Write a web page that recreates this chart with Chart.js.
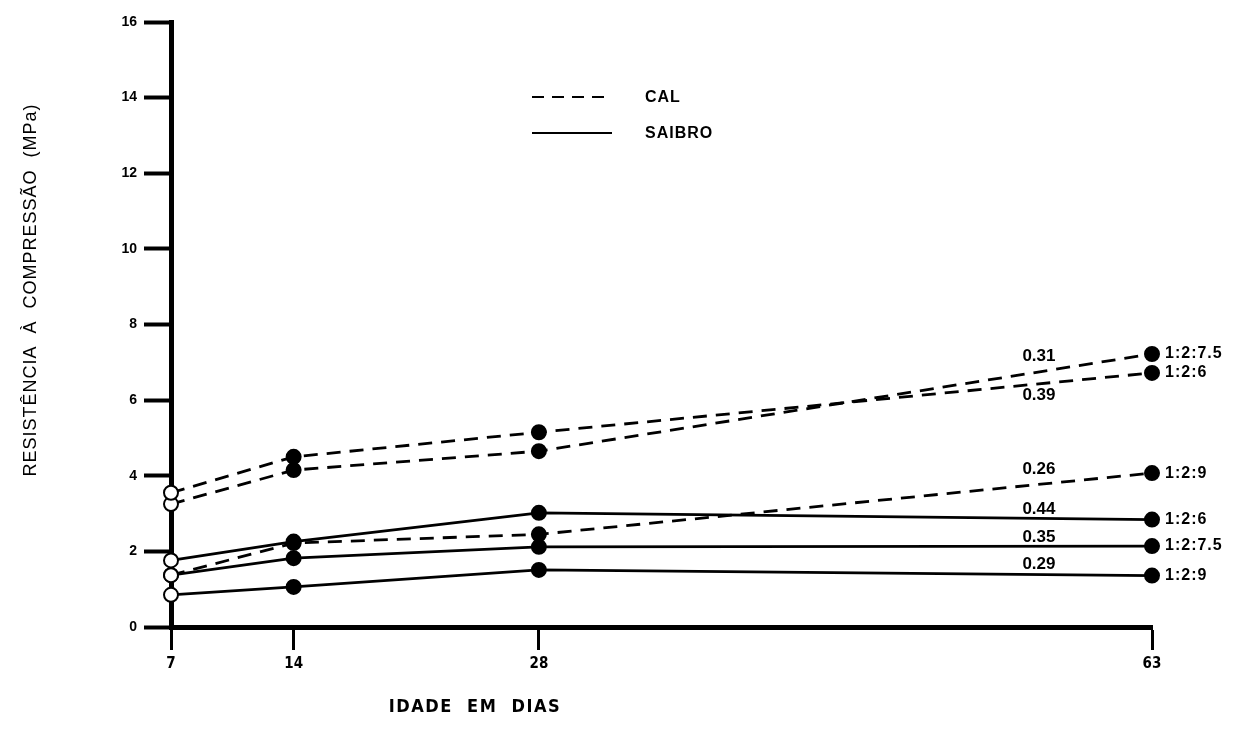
<!DOCTYPE html>
<html>
<head>
<meta charset="utf-8">
<script src="https://cdn.jsdelivr.net/npm/chart.js@4.4.1/dist/chart.umd.min.js"></script>
<style>
  html, body { margin: 0; padding: 0; background: #fff; }
  #wrap { width: 1254px; height: 743px; position: relative; }
</style>
</head>
<body>
<div id="wrap"><canvas id="c" width="1254" height="743"></canvas></div>
<script>
// ---- data ----
const DAYS = [7, 14, 28, 63];
const Y_TICKS = [0, 2, 4, 6, 8, 10, 12, 14, 16];

const CAL_126  = [3.55, 4.50, 5.15, 6.72];
const CAL_1275 = [3.25, 4.15, 4.65, 7.22];
const CAL_129  = [1.37, 2.22, 2.45, 4.07];
const SAI_126  = [1.76, 2.26, 3.02, 2.84];
const SAI_1275 = [1.37, 1.82, 2.12, 2.14];
const SAI_129  = [0.85, 1.06, 1.51, 1.36];

const END_LABELS = ['1:2:6', '1:2:7.5', '1:2:9', '1:2:6', '1:2:7.5', '1:2:9'];
const RATIO_LABELS = ['0.39', '0.31', '0.26', '0.44', '0.35', '0.29'];
// where each ratio label sits (day, MPa)
const RATIO_X = [56.8, 56.8, 56.8, 56.8, 56.8, 56.8];
const RATIO_Y = [6.14, 7.17, 4.18, 3.12, 2.38, 1.67];

const LEGEND = ['CAL', 'SAIBRO'];
const X_TITLE = 'IDADE  EM  DIAS';
const Y_TITLE = 'RESISTÊNCIA  À  COMPRESSÃO  (MPa)';

const SERIES = [
  { vals: CAL_126,  dashed: true },
  { vals: CAL_1275, dashed: true },
  { vals: CAL_129,  dashed: true },
  { vals: SAI_126,  dashed: false },
  { vals: SAI_1275, dashed: false },
  { vals: SAI_129,  dashed: false }
];

const DASH = [14, 9];

const datasets = SERIES.map((s, i) => ({
  label: END_LABELS[i],
  data: DAYS.map((d, j) => ({ x: d, y: s.vals[j] })),
  borderColor: '#000',
  borderWidth: 2.8,
  borderDash: s.dashed ? DASH : [],
  pointRadius: 7,
  pointHoverRadius: 7,
  pointBorderWidth: 2,
  pointBorderColor: '#000',
  pointBackgroundColor: DAYS.map((d, j) => j === 0 ? '#fff' : '#000'),
  fill: false,
  tension: 0,
  clip: false
}));

const annot = {
  id: 'annot',
  afterDatasetsDraw(chart) {
    const ctx = chart.ctx;
    const xs = chart.scales.x, ys = chart.scales.y;
    ctx.save();
    ctx.fillStyle = '#000';
    ctx.strokeStyle = '#000';

    // ratio labels
    ctx.font = 'bold 17px "Liberation Sans", Arial, sans-serif';
    ctx.textAlign = 'left';
    ctx.textBaseline = 'middle';
    RATIO_LABELS.forEach((t, i) => {
      ctx.fillText(t, xs.getPixelForValue(RATIO_X[i]) - 21, ys.getPixelForValue(RATIO_Y[i]));
    });

    // end labels
    ctx.font = 'bold 16px "Liberation Sans", Arial, sans-serif';
    try { ctx.letterSpacing = '1px'; } catch (e) {}
    SERIES.forEach((s, i) => {
      const last = s.vals.length - 1;
      ctx.fillText(END_LABELS[i], xs.getPixelForValue(DAYS[last]) + 13, ys.getPixelForValue(s.vals[last]));
    });

    // legend
    ctx.font = 'bold 16px "Liberation Sans", Arial, sans-serif';
    ctx.lineWidth = 2;
    ctx.setLineDash([12, 8]);
    ctx.beginPath(); ctx.moveTo(532, 97); ctx.lineTo(612, 97); ctx.stroke();
    ctx.setLineDash([]);
    ctx.beginPath(); ctx.moveTo(532, 133); ctx.lineTo(612, 133); ctx.stroke();
    ctx.fillText(LEGEND[0], 645, 98);
    ctx.fillText(LEGEND[1], 645, 134);

    // axis titles
    try { ctx.letterSpacing = '1.5px'; } catch (e) {}
    ctx.font = 'bold 18px "Liberation Sans Narrow", "DejaVu Sans Condensed", sans-serif';
    ctx.textAlign = 'center';
    ctx.fillText(X_TITLE, 475, 707);

    ctx.translate(31, 290);
    ctx.rotate(-Math.PI / 2);
    ctx.font = '18px "Liberation Sans", Arial, sans-serif';
    try { ctx.letterSpacing = '1px'; } catch (e) {}
    ctx.fillText(Y_TITLE, 0, 0);
    ctx.restore();
  }
};

new Chart(document.getElementById('c'), {
  type: 'line',
  data: { datasets },
  options: {
    responsive: false,
    animation: false,
    events: [],
    layout: { autoPadding: false, padding: { top: 22, right: 102, left: 0, bottom: 0 } },
    plugins: { legend: { display: false }, tooltip: { enabled: false } },
    scales: {
      x: {
        type: 'linear',
        min: DAYS[0],
        max: DAYS[DAYS.length - 1],
        afterBuildTicks: s => { s.ticks = DAYS.map(v => ({ value: v })); },
        afterFit: s => { s.height = 743 - 627; },
        grid: { drawOnChartArea: false, drawTicks: true, tickLength: 23, tickWidth: 3, tickColor: '#000' },
        border: { display: true, width: 5, color: '#000' },
        ticks: {
          color: '#000', padding: 5, maxRotation: 0, autoSkip: false,
          font: { family: '"Liberation Sans Narrow", "DejaVu Sans Condensed", sans-serif', size: 15, weight: 'bold' }
        }
      },
      y: {
        type: 'linear',
        min: Y_TICKS[0],
        max: Y_TICKS[Y_TICKS.length - 1],
        afterBuildTicks: s => { s.ticks = Y_TICKS.map(v => ({ value: v })); },
        afterFit: s => { s.width = 171; },
        grid: { drawOnChartArea: false, drawTicks: true, tickLength: 27, tickWidth: 4, tickColor: '#000' },
        border: { display: true, width: 5, color: '#000' },
        ticks: {
          color: '#000', padding: 7,
          font: { family: '"Liberation Sans", Arial, sans-serif', size: 14, weight: 'bold' }
        }
      }
    }
  },
  plugins: [annot]
});
</script>
</body>
</html>
